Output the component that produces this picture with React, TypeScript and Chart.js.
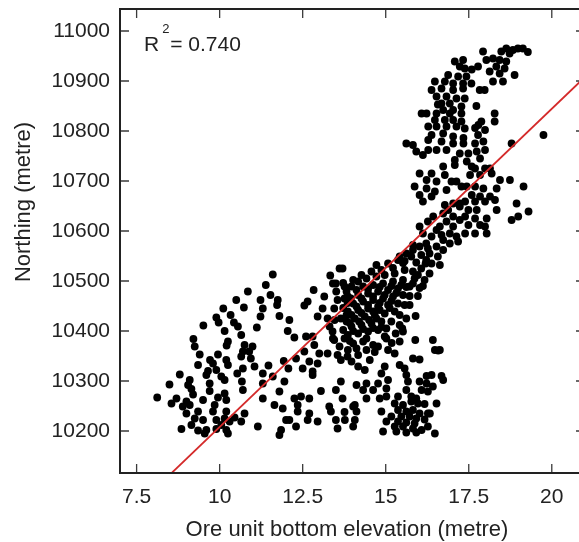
import { useEffect, useRef } from "react";
import { Chart, registerables } from "chart.js";

Chart.register(...registerables);

type Pt = [number, number];

// Ore unit bottom elevation (m) vs northing (m), grouped by area of the plot
const leftCluster: Pt[] = [
  [10.85, 10479], [10.5, 10462], [10.73, 10447], [10.11, 10445], [10.33, 10432], [9.9, 10427], [9.97, 10417],
  [10.43, 10417], [9.51, 10411], [10.55, 10409], [10.15, 10400], [10.65, 10392], [10.25, 10379], [9.21, 10384],
  [10.21, 10371], [10.75, 10372], [9.25, 10369], [10.7, 10359], [10.65, 10349], [9.4, 10353], [9.95, 10353],
  [10.2, 10342], [9.71, 10342], [9.8, 10335], [9.35, 10332], [10.25, 10332], [10.7, 10325], [9.65, 10320],
  [9.9, 10322], [10.53, 10315], [8.8, 10313], [9.6, 10312], [10.05, 10309], [9.1, 10302], [10.15, 10302],
  [10.67, 10299], [8.49, 10293], [9.05, 10292], [9.7, 10295], [9.15, 10284], [9.7, 10280], [10.7, 10282],
  [10.15, 10275], [9.2, 10273], [8.12, 10267], [8.7, 10265], [9.5, 10262], [9.95, 10267], [10.2, 10262],
  [8.55, 10255], [9.0, 10259], [9.1, 10252], [9.85, 10252], [8.89, 10249], [9.35, 10239], [9.8, 10239],
  [9.0, 10235], [10.2, 10239], [10.75, 10235], [9.25, 10225], [9.5, 10222], [9.9, 10222], [10.15, 10225],
  [10.3, 10219], [10.45, 10227], [9.15, 10212], [10.05, 10212], [8.85, 10204], [9.35, 10201], [9.6, 10202],
  [9.9, 10204], [10.2, 10202], [10.25, 10195], [9.55, 10195], [10.65, 10219],
];

const midLeftCluster: Pt[] = [
  [11.6, 10513], [13.7, 10525], [13.33, 10511], [11.39, 10492], [11.53, 10472], [11.75, 10462],
  [13.5, 10495], [13.76, 10489], [12.83, 10482], [13.15, 10469], [11.23, 10462], [11.3, 10445], [11.73, 10452],
  [12.65, 10459], [12.55, 10451], [13.55, 10462], [13.76, 10465], [13.1, 10445], [13.45, 10445], [11.23, 10429],
  [11.8, 10430], [12.1, 10422], [12.95, 10429], [13.25, 10425], [13.65, 10425], [11.12, 10407], [12.05, 10400],
  [12.6, 10389], [12.25, 10387], [12.8, 10389], [13.4, 10399], [13.45, 10382], [13.76, 10385], [10.99, 10369],
  [12.85, 10372], [10.89, 10359], [12.55, 10359], [13.0, 10355], [13.25, 10355], [13.55, 10352], [10.94, 10345],
  [11.93, 10340], [12.3, 10345], [12.7, 10339], [12.95, 10335], [13.65, 10342], [11.05, 10329], [11.47, 10331],
  [12.07, 10325], [12.5, 10325], [12.8, 10319], [11.3, 10315], [12.8, 10312], [11.6, 10309], [11.3, 10295],
  [11.95, 10299], [13.65, 10299], [11.8, 10279], [13.05, 10280], [13.5, 10282], [11.3, 10265], [12.25, 10265],
  [12.45, 10269], [12.7, 10265], [13.7, 10265], [11.65, 10252], [12.35, 10252], [13.3, 10249], [11.9, 10245],
  [12.35, 10239], [13.35, 10239], [12.7, 10235], [12.1, 10222], [12.0, 10222], [12.65, 10222], [12.95, 10219],
  [11.15, 10209], [11.85, 10202], [12.3, 10209], [13.55, 10205], [11.8, 10192], [13.5, 10222], [13.76, 10238],
];

const lowerMiddleCluster: Pt[] = [
  [16.42, 10382], [16.48, 10362], [16.63, 10362], [15.89, 10382], [15.52, 10399], [15.42, 10379], [15.02, 10385],
  [14.77, 10369], [15.07, 10362], [15.27, 10355], [15.82, 10345], [16.02, 10343], [15.42, 10332], [15.57, 10325],
  [14.97, 10329], [13.97, 10339], [14.17, 10329], [14.52, 10342], [14.37, 10322], [14.87, 10315], [15.62, 10312],
  [16.23, 10310], [16.38, 10312], [16.68, 10310], [16.73, 10302], [16.02, 10299], [15.67, 10299], [15.07, 10302],
  [14.77, 10295], [16.23, 10295], [16.42, 10289], [14.12, 10292], [14.42, 10295], [14.62, 10282], [15.02, 10285],
  [15.62, 10282], [16.08, 10282], [16.27, 10279], [15.37, 10269], [15.77, 10269], [15.92, 10265], [15.02, 10269],
  [14.82, 10265], [14.42, 10265], [14.07, 10252], [15.27, 10255], [15.52, 10252], [15.77, 10259], [15.97, 10255],
  [16.17, 10254], [16.53, 10255], [14.12, 10239], [14.87, 10239], [15.37, 10242], [15.62, 10239], [15.82, 10242],
  [16.02, 10235], [16.27, 10235], [15.17, 10229], [15.47, 10229], [15.72, 10229], [15.92, 10225], [16.17, 10223],
  [14.07, 10222], [15.02, 10219], [15.37, 10219], [15.62, 10217], [15.87, 10215], [15.27, 10209], [15.52, 10209],
  [15.82, 10205], [16.08, 10202], [16.48, 10195], [14.92, 10199], [15.32, 10199], [15.62, 10197], [15.92, 10197],
  [16.27, 10209], [14.02, 10249], [13.77, 10222], [14.02, 10209], [14.32, 10282], [16.33, 10235], [16.58, 10361],
];

const centralBand: Pt[] = [
  [14.72, 10532], [15.07, 10535], [15.37, 10542], [15.77, 10549], [16.07, 10552], [16.32, 10555], [16.57, 10549],
  [16.38, 10535], [16.07, 10525], [15.82, 10519], [15.57, 10522], [15.27, 10515], [14.97, 10512], [14.72, 10509],
  [14.42, 10505], [14.17, 10499], [13.97, 10489], [14.32, 10489], [14.62, 10492], [14.92, 10495], [15.22, 10499],
  [15.52, 10502], [15.87, 10505], [16.32, 10515], [15.72, 10489], [15.37, 10485], [15.07, 10482], [14.77, 10479],
  [14.47, 10475], [14.17, 10472], [13.86, 10469], [15.52, 10472], [15.22, 10469], [14.92, 10465], [14.62, 10462],
  [14.32, 10459], [14.02, 10455], [15.37, 10455], [15.07, 10452], [14.77, 10449], [14.47, 10445], [14.17, 10442],
  [13.86, 10439], [15.27, 10439], [14.97, 10435], [14.67, 10432], [14.37, 10429], [14.07, 10425], [13.82, 10419],
  [15.17, 10419], [14.87, 10419], [14.57, 10415], [14.27, 10412], [13.97, 10409], [15.42, 10412], [14.77, 10402],
  [14.47, 10399], [14.17, 10395], [13.86, 10392], [14.97, 10389], [14.32, 10379], [14.02, 10375], [14.62, 10372],
  [14.42, 10362], [13.86, 10362], [14.17, 10352], [15.18, 10376], [14.67, 10358],
  [13.61, 10525], [13.41, 10495], [13.51, 10479], [13.85, 10456], [13.82, 10432], [13.46, 10422], [13.31, 10409],
  [13.41, 10385], [13.61, 10369], [13.85, 10349],
  [15.42, 10549], [15.62, 10555], [15.82, 10562], [16.02, 10569], [16.22, 10575], [16.38, 10589], [16.12, 10595],
  [16.53, 10602], [16.02, 10609], [16.27, 10619], [16.63, 10609], [16.83, 10619], [17.03, 10629], [16.43, 10629],
  [16.73, 10635], [16.88, 10642], [17.23, 10649], [17.23, 10622], [17.03, 10609], [16.93, 10595], [16.73, 10582],
  [16.53, 10569], [16.22, 10542], [16.73, 10562], [16.93, 10575], [17.13, 10589], [16.68, 10592], [15.82, 10572],
  [16.27, 10565], [17.18, 10579], [17.03, 10655], [16.02, 10672], [17.13, 10699],
  [16.63, 10532], [16.17, 10502], [16.02, 10486], [15.72, 10470], [15.57, 10452], [15.42, 10432],
  // the most crowded stretch, staggered between the rows above
  [14.87, 10522], [15.22, 10526], [15.52, 10536], [15.92, 10537], [14.57, 10519], [14.27, 10512], [14.02, 10502],
  [13.72, 10496], [14.47, 10484], [14.82, 10488], [15.17, 10490], [15.47, 10492], [15.82, 10495], [14.12, 10482],
  [13.82, 10479], [14.62, 10469], [14.97, 10472], [15.32, 10476], [14.27, 10465], [13.95, 10465], [14.47, 10452],
  [14.82, 10456], [15.17, 10460], [14.12, 10449], [13.72, 10446], [14.62, 10439], [14.27, 10436], [13.97, 10432],
  [14.82, 10442], [15.12, 10446], [14.5, 10422], [14.2, 10419], [13.92, 10416], [14.72, 10425], [14.02, 10400],
  [14.32, 10404], [14.62, 10406], [13.72, 10402], [14.87, 10408], [15.57, 10540], [16.2, 10535], [15.97, 10512],
  [15.72, 10452], [15.97, 10470], [15.62, 10425], [15.9, 10430], [15.5, 10405], [15.3, 10395], [16.12, 10490],
  [15.62, 10488], [15.02, 10405], [14.42, 10385], [14.12, 10365], [13.92, 10380],
];

const upperCluster: Pt[] = [
  [17.93, 10959], [18.63, 10965], [18.83, 10962], [18.98, 10965], [19.13, 10965], [18.73, 10955], [18.48, 10959],
  [19.28, 10958], [17.08, 10939], [17.33, 10942], [17.23, 10929], [17.38, 10925], [17.78, 10929], [18.03, 10942],
  [18.23, 10945], [18.43, 10942], [18.63, 10939], [18.33, 10929], [18.58, 10925], [18.13, 10919], [18.43, 10915],
  [18.88, 10912], [18.23, 10899], [18.53, 10899], [16.88, 10912], [17.18, 10909], [17.43, 10909], [16.48, 10899],
  [16.78, 10899], [17.03, 10895], [17.33, 10895], [17.58, 10895], [17.83, 10882], [17.98, 10882], [16.38, 10882],
  [16.68, 10885], [17.03, 10882], [17.33, 10885], [16.53, 10869], [16.83, 10869], [17.13, 10865], [17.38, 10865],
  [16.68, 10855], [16.93, 10855], [17.73, 10850], [16.73, 10842], [17.03, 10842], [17.28, 10849], [16.08, 10835],
  [16.23, 10835], [16.53, 10835], [16.93, 10835], [17.28, 10835], [18.28, 10835], [16.48, 10822], [16.78, 10822],
  [17.03, 10822], [17.28, 10819], [17.88, 10819], [18.28, 10819], [16.28, 10809], [16.53, 10809], [16.83, 10809],
  [17.13, 10809], [16.38, 10792], [16.73, 10795], [17.03, 10789], [15.62, 10775], [15.82, 10772], [16.28, 10782],
  [16.68, 10779], [17.03, 10775], [15.92, 10759], [16.12, 10752], [16.28, 10762], [16.53, 10762], [16.83, 10762],
  [17.23, 10755], [17.08, 10742], [16.73, 10729], [17.08, 10732], [16.02, 10715], [16.38, 10715], [16.78, 10712],
  [16.23, 10702], [16.53, 10699], [16.98, 10699], [15.87, 10689], [16.23, 10685], [16.48, 10679], [16.83, 10682],
  [17.28, 10689], [16.12, 10659], [16.38, 10669], [16.78, 10652], [17.23, 10655],
  [17.38, 10805], [17.78, 10792], [16.57, 10853], [17.59, 10923], [17.69, 10806], [17.34, 10786],
];

const upperRightEdge: Pt[] = [
  [17.79, 10812], [17.99, 10802], [17.34, 10775], [17.69, 10775], [17.94, 10779], [18.79, 10775], [19.75, 10792],
  [17.49, 10755], [17.74, 10759], [17.99, 10762], [17.44, 10739], [17.84, 10745], [17.59, 10729], [17.69, 10725],
  [17.99, 10725], [18.14, 10725], [17.54, 10712], [17.84, 10712], [18.19, 10715], [18.44, 10702], [18.74, 10702],
  [19.15, 10689], [17.44, 10689], [17.69, 10689], [17.94, 10685], [18.34, 10685], [17.59, 10672], [17.84, 10669],
  [18.14, 10669], [17.39, 10659], [17.69, 10659], [17.99, 10659], [18.29, 10662], [18.94, 10655], [17.49, 10642],
  [17.74, 10642], [18.34, 10642], [19.3, 10639], [17.39, 10629], [17.69, 10625], [18.04, 10625], [18.79, 10622],
  [18.99, 10629], [17.49, 10612], [17.84, 10612], [17.99, 10609], [17.39, 10595], [17.69, 10595], [18.04, 10595],
];

const xTicks = [7.5, 10, 12.5, 15, 17.5, 20];
const xTickLabels = ["7.5", "10", "12.5", "15", "17.5", "20"];
const yTicks = [10200, 10300, 10400, 10500, 10600, 10700, 10800, 10900, 11000];
const xRange: [number, number] = [7, 21];
const yRange: [number, number] = [10116, 11044];

// least-squares fit drawn across the plot
const fitSlope = 63.64;
const fitIntercept = 9571.6;
const rSquaredText = "= 0.740";

const xTitle = "Ore unit bottom elevation (metre)";
const yTitle = "Northing (metre)";

const FONT = '"Liberation Sans", Arial, Helvetica, sans-serif';
const INK = "#222";

const framePlugin = {
  id: "frameAndNotes",
  afterDraw(chart: Chart) {
    const ctx = chart.ctx;
    const { left, right, top, bottom } = chart.chartArea;
    const xs = chart.scales.x;
    const ys = chart.scales.y;
    ctx.save();

    // inward tick marks on all four sides
    ctx.strokeStyle = "#3a3a3a";
    ctx.lineWidth = 1.3;
    const tickLen = 9;
    ctx.beginPath();
    xTicks.forEach((v) => {
      const px = xs.getPixelForValue(v);
      ctx.moveTo(px, bottom);
      ctx.lineTo(px, bottom - tickLen);
      ctx.moveTo(px, top);
      ctx.lineTo(px, top + tickLen);
    });
    yTicks.forEach((v) => {
      const py = ys.getPixelForValue(v);
      ctx.moveTo(left, py);
      ctx.lineTo(left + tickLen, py);
      ctx.moveTo(right, py);
      ctx.lineTo(right - tickLen, py);
    });
    ctx.stroke();

    // plot frame
    ctx.strokeStyle = INK;
    ctx.lineWidth = 2;
    ctx.strokeRect(left, top, right - left, bottom - top);

    // axis titles
    ctx.fillStyle = INK;
    ctx.font = `22px ${FONT}`;
    ctx.textAlign = "center";
    ctx.textBaseline = "middle";
    ctx.fillText(xTitle, 347, 530);
    ctx.save();
    ctx.translate(24, 202);
    ctx.rotate(-Math.PI / 2);
    ctx.fillText(yTitle, 0, 0);
    ctx.restore();

    // coefficient of determination
    ctx.textAlign = "left";
    ctx.textBaseline = "alphabetic";
    const bx = left + 24;
    const by = top + 42;
    ctx.font = `21px ${FONT}`;
    ctx.fillText("R", bx, by);
    const rw = ctx.measureText("R").width;
    ctx.font = `13px ${FONT}`;
    ctx.fillText("2", bx + rw + 3, by - 18);
    ctx.font = `21px ${FONT}`;
    ctx.fillText(rSquaredText, bx + rw + 11, by);

    ctx.restore();
  },
};

export default function App() {
  const canvasRef = useRef<HTMLCanvasElement | null>(null);

  useEffect(() => {
    const canvas = canvasRef.current;
    if (!canvas) return;
    const points = [...leftCluster, ...midLeftCluster, ...lowerMiddleCluster, ...centralBand, ...upperCluster, ...upperRightEdge].map(
      ([x, y]) => ({ x, y })
    );
    const fitLine = xRange.map((x) => ({ x, y: fitIntercept + fitSlope * x }));

    const chart = new Chart(canvas, {
      type: "scatter",
      data: {
        datasets: [
          {
            label: "fit",
            data: fitLine,
            showLine: true,
            borderColor: "#d42a2a",
            borderWidth: 1.8,
            pointRadius: 0,
            order: 1,
          },
          {
            label: "samples",
            data: points,
            backgroundColor: "#000",
            borderWidth: 0,
            pointRadius: 3.9,
            order: 2,
          },
        ],
      },
      options: {
        responsive: false,
        animation: false,
        layout: { padding: { left: 0, right: 15, top: 9, bottom: 0 } },
        plugins: { legend: { display: false }, tooltip: { enabled: false } },
        scales: {
          x: {
            type: "linear",
            min: xRange[0],
            max: xRange[1],
            afterBuildTicks: (s: any) => {
              s.ticks = xTicks.map((value) => ({ value }));
            },
            afterFit: (s: any) => {
              s.height = 69;
              s.paddingLeft = 0;
              s.paddingRight = 0;
            },
            grid: { display: false, drawTicks: false },
            border: { display: false },
            ticks: {
              padding: 12,
              color: INK,
              font: { size: 21, family: FONT },
              callback: (v: any) => {
                const i = xTicks.indexOf(Number(v));
                return i >= 0 ? xTickLabels[i] : "";
              },
            },
          },
          y: {
            type: "linear",
            min: yRange[0],
            max: yRange[1],
            afterBuildTicks: (s: any) => {
              s.ticks = yTicks.map((value) => ({ value }));
            },
            afterFit: (s: any) => {
              s.width = 120;
              s.paddingTop = 0;
              s.paddingBottom = 0;
            },
            grid: { display: false, drawTicks: false },
            border: { display: false },
            ticks: {
              padding: 10,
              color: INK,
              font: { size: 21, family: FONT },
              callback: (v: any) => String(v),
            },
          },
        },
      },
      plugins: [framePlugin],
    });
    return () => chart.destroy();
  }, []);

  return (
    <div style={{ position: "fixed", left: 0, top: 0, width: 579, height: 542, overflow: "hidden", background: "#fff" }}>
      <canvas ref={canvasRef} width={600} height={542} style={{ display: "block" }} />
    </div>
  );
}
